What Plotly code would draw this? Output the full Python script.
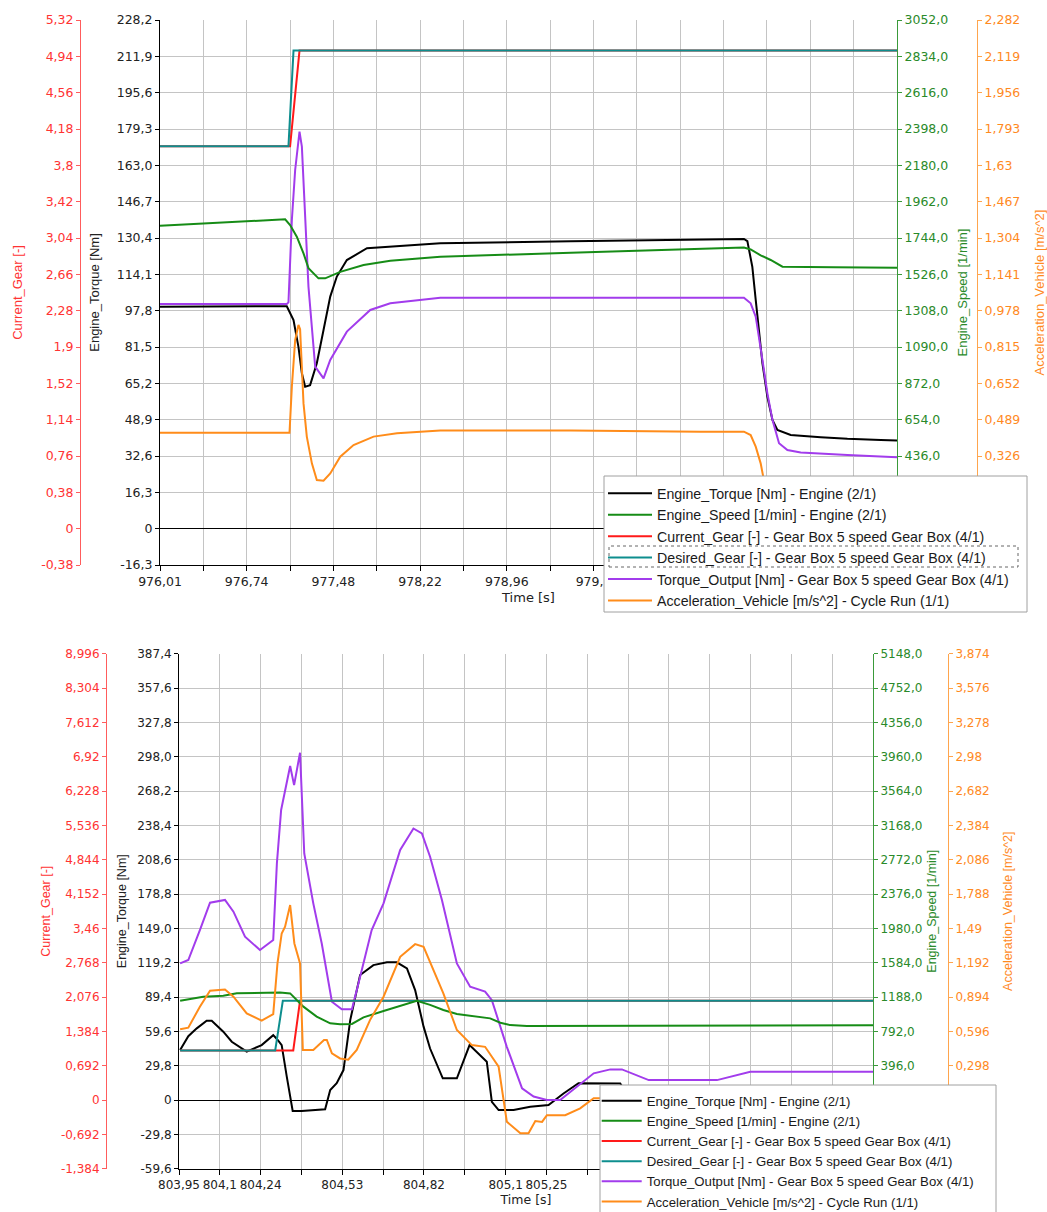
import plotly.graph_objects as go

W, H = 1047, 1212

# ---------------- top chart: gear shift 4 -> 5 ----------------
top_time_range = [976.01, 982.27]
top_time_labels = ["976,01", "", "976,74", "", "977,48", "", "978,22", "", "978,96", "",
                   "979,7", "", "", "", "", "", "", ""]

top_torque_t = [976.01, 976.69, 977.087, 977.144, 977.186, 977.215, 977.243, 977.285, 977.342,
                977.399, 977.456, 977.512, 977.597, 977.768, 977.966, 978.391, 979.5, 980.602,
                980.970, 980.999, 981.041, 981.070, 981.098, 981.127, 981.169, 981.212, 981.254,
                981.367, 981.622, 981.849, 982.132, 982.27]
top_torque = [99.6, 99.8, 99.8, 93.6, 81.6, 69.7, 63.7, 64.4, 74.2, 89.1, 104.1, 113.1, 120.5,
              125.8, 126.5, 128.0, 128.9, 129.5, 130.0, 129.0, 117.5, 102.6, 87.7, 74.2, 59.2,
              48.8, 44.3, 42.0, 41.0, 40.3, 39.8, 39.5]

top_speed_t = [976.01, 976.69, 977.073, 977.115, 977.172, 977.229, 977.271, 977.356, 977.413,
               977.541, 977.739, 977.966, 978.391, 979.5, 980.602, 980.970, 981.027, 981.112,
               981.197, 981.297, 981.735, 982.27]
top_speed = [1818, 1842, 1856, 1822, 1752, 1652, 1563, 1502, 1502, 1541, 1582, 1608, 1632, 1655,
             1679, 1687, 1675, 1640, 1612, 1572, 1568, 1565]

top_cur_gear_t = [976.01, 977.115, 977.195, 982.27]
top_cur_gear = [4, 4, 5, 5]
top_des_gear_t = [976.01, 977.101, 977.144, 982.27]
top_des_gear = [4, 4, 5, 5]

top_tout_t = [976.01, 977.087, 977.101, 977.130, 977.158, 977.195, 977.215, 977.243, 977.271,
              977.328, 977.399, 977.456, 977.597, 977.796, 977.966, 978.391, 979.5, 980.602,
              980.970, 981.027, 981.070, 981.127, 981.169, 981.212, 981.268, 981.339, 981.452,
              981.849, 982.27]
top_tout = [100.8, 100.8, 101.5, 138.5, 160.9, 178.1, 171.4, 138.5, 108.6, 72.7, 67.4, 75.7,
            88.4, 98.1, 101.1, 103.6, 103.7, 103.6, 103.6, 101.1, 95.1, 75.7, 60.7, 48.8, 38.3,
            35.3, 34.2, 33.0, 32.0]

top_acc_t = [976.01, 977.110, 977.130, 977.158, 977.186, 977.200, 977.229, 977.257, 977.300,
             977.342, 977.399, 977.456, 977.541, 977.654, 977.824, 978.023, 978.391, 979.5,
             980.602, 980.970, 981.027, 981.070, 981.112, 981.140, 981.20, 981.30, 981.5, 982.27]
top_acc = [0.430, 0.430, 0.637, 0.846, 0.914, 0.895, 0.562, 0.413, 0.293, 0.218, 0.215, 0.248,
           0.323, 0.375, 0.413, 0.428, 0.440, 0.440, 0.435, 0.435, 0.420, 0.368, 0.293, 0.22,
           0.05, -0.05, -0.06, -0.06]

top_torque_labels = ["-16,3", "0", "16,3", "32,6", "48,9", "65,2", "81,5", "97,8", "114,1",
                     "130,4", "146,7", "163,0", "179,3", "195,6", "211,9", "228,2"]
top_gear_labels = ["-0,38", "0", "0,38", "0,76", "1,14", "1,52", "1,9", "2,28", "2,66", "3,04",
                   "3,42", "3,8", "4,18", "4,56", "4,94", "5,32"]
top_speed_labels = ["-218,0", "0", "218,0", "436,0", "654,0", "872,0", "1090,0", "1308,0",
                    "1526,0", "1744,0", "1962,0", "2180,0", "2398,0", "2616,0", "2834,0", "3052,0"]
top_acc_labels = ["-0,163", "0", "0,163", "0,326", "0,489", "0,652", "0,815", "0,978", "1,141",
                  "1,304", "1,467", "1,63", "1,793", "1,956", "2,119", "2,282"]

# ---------------- bottom chart: gear shift 1 -> 2 ----------------
bot_time_range = [803.95, 806.41]
bot_time_labels = ["803,95", "804,1", "804,24", "", "804,53", "", "804,82", "", "805,1",
                   "805,25", "", "", "", "", "", "", "", ""]

bot_torque_t = [803.954, 803.983, 804.013, 804.048, 804.066, 804.107, 804.137, 804.190, 804.243,
                804.284, 804.297, 804.314, 804.332, 804.353, 804.385, 804.468, 804.486, 804.509,
                804.533, 804.557, 804.592, 804.639, 804.687, 804.722, 804.758, 804.787, 804.817,
                804.840, 804.885, 804.935, 804.980, 805.041, 805.059, 805.083, 805.136, 805.195,
                805.260, 805.313, 805.366, 805.408, 805.514, 805.53, 806.41]
bot_torque = [43.4, 55.4, 62.2, 68.8, 68.8, 59.3, 50.6, 42.0, 47.7, 56.3, 53.0, 47.7, 20.3, -9.5,
              -9.5, -8.1, 8.7, 14.6, 26.0, 69.4, 108.5, 117.1, 119.5, 119.5, 114.2, 95.4, 63.7,
              44.7, 18.8, 18.8, 47.7, 33.3, -1.5, -8.7, -8.7, -5.8, -4.3, 5.7, 14.6, 14.5, 14.3,
              8.0, 8.0]

bot_speed_t = [803.954, 804.036, 804.107, 804.155, 804.308, 804.344, 804.391, 804.438, 804.486,
               804.521, 804.563, 804.604, 804.675, 804.746, 804.793, 804.840, 804.887, 804.935,
               805.006, 805.053, 805.089, 805.124, 805.183, 805.349, 806.41]
bot_speed = [1145, 1192, 1204, 1231, 1239, 1230, 1077, 962, 885, 873, 878, 954, 1027, 1095, 1145,
             1097, 1038, 992, 962, 942, 891, 864, 853, 855, 862]

bot_cur_gear_t = [803.954, 804.355, 804.379, 806.41]
bot_cur_gear = [1, 1, 2, 2]
bot_des_gear_t = [803.954, 804.291, 804.318, 806.41]
bot_des_gear = [1, 1, 2, 2]

bot_tout_t = [803.954, 803.983, 804.024, 804.060, 804.113, 804.143, 804.184, 804.237, 804.284,
              804.297, 804.312, 804.326, 804.344, 804.358, 804.379, 804.394, 804.426, 804.456,
              804.492, 804.527, 804.563, 804.592, 804.633, 804.675, 804.734, 804.781, 804.811,
              804.840, 804.882, 804.935, 804.982, 805.035, 805.059, 805.112, 805.166, 805.207,
              805.254, 805.301, 805.361, 805.420, 805.479, 805.520, 805.615, 805.857, 805.975,
              806.41]
bot_tout = [118.6, 121.5, 147.5, 171.3, 173.7, 163.5, 141.8, 130.2, 138.9, 205.4, 251.8, 267.6,
            289.9, 273.3, 301.5, 214.0, 170.7, 135.9, 85.3, 78.7, 78.7, 107.0, 147.5, 170.7,
            217.0, 235.7, 231.5, 211.2, 173.7, 118.6, 98.3, 94.1, 86.7, 46.2, 10.1, 3.0, 0.0, 0.0,
            11.6, 23.2, 26.6, 26.6, 17.3, 17.3, 24.6, 24.6]

bot_acc_t = [803.954, 803.983, 804.024, 804.060, 804.113, 804.143, 804.190, 804.243, 804.284,
             804.299, 804.314, 804.326, 804.344, 804.359, 804.379, 804.389, 804.426, 804.464,
             804.474, 804.492, 804.521, 804.550, 804.580, 804.627, 804.675, 804.734, 804.787,
             804.817, 804.887, 804.935, 804.988, 805.035, 805.083, 805.112, 805.160, 805.189,
             805.213, 805.237, 805.254, 805.319, 805.372, 805.420, 805.45, 806.41]
bot_acc = [0.614, 0.628, 0.810, 0.948, 0.960, 0.897, 0.752, 0.689, 0.746, 1.186, 1.446, 1.504,
           1.692, 1.359, 1.186, 0.435, 0.435, 0.521, 0.521, 0.405, 0.361, 0.350, 0.435, 0.694,
           0.897, 1.243, 1.353, 1.330, 0.926, 0.608, 0.477, 0.462, 0.289, -0.188, -0.289, -0.289,
           -0.182, -0.190, -0.131, -0.131, -0.072, 0.015, 0.015, 0.015]

bot_torque_labels = ["-59,6", "-29,8", "0", "29,8", "59,6", "89,4", "119,2", "149,0", "178,8",
                     "208,6", "238,4", "268,2", "298,0", "327,8", "357,6", "387,4"]
bot_gear_labels = ["-1,384", "-0,692", "0", "0,692", "1,384", "2,076", "2,768", "3,46", "4,152",
                   "4,844", "5,536", "6,228", "6,92", "7,612", "8,304", "8,996"]
bot_speed_labels = ["-792,0", "-396,0", "0", "396,0", "792,0", "1188,0", "1584,0", "1980,0",
                    "2376,0", "2772,0", "3168,0", "3564,0", "3960,0", "4356,0", "4752,0", "5148,0"]
bot_acc_labels = ["-0,596", "-0,298", "0", "0,298", "0,596", "0,894", "1,192", "1,49", "1,788",
                  "2,086", "2,384", "2,682", "2,98", "3,278", "3,576", "3,874"]

NAMES = ["Engine_Torque [Nm] - Engine (2/1)",
         "Engine_Speed [1/min] - Engine (2/1)",
         "Current_Gear [-] - Gear Box 5 speed Gear Box (4/1)",
         "Desired_Gear [-] - Gear Box 5 speed Gear Box (4/1)",
         "Torque_Output [Nm] - Gear Box 5 speed Gear Box (4/1)",
         "Acceleration_Vehicle [m/s^2] - Cycle Run (1/1)"]
COLORS = ["#000000", "#168c16", "#ff1a1a", "#0e8e8e", "#a23cec", "#ff8c1a"]
GRID = "#c4c4c4"
LABEL_FONT = "DejaVu Sans"
TEXT_FONT = "Liberation Sans"


def px_x(x):
    return x / W


def px_y(y):
    return 1 - y / H


def tick_values(labels):
    """Tick positions read back from the comma-decimal labels."""
    return [float(s.replace(",", ".")) for s in labels]


def y_axis(labels, label_color, line_color, title, title_color, size, standoff, grid=False, **kw):
    vals = tick_values(labels)
    return dict(
        range=[vals[0], vals[-1]], tickmode="array", tickvals=vals, ticktext=labels,
        showline=True, linecolor=line_color, linewidth=1,
        ticks="outside", ticklen=4, tickcolor=line_color,
        tickfont=dict(family=LABEL_FONT, size=size, color=label_color),
        title=dict(text=title, font=dict(family=TEXT_FONT, size=size + 0.5, color=title_color),
                   standoff=standoff),
        showgrid=grid, gridcolor=GRID, gridwidth=1.2,
        zeroline=grid, zerolinecolor="#000000", zerolinewidth=1,
        automargin=False, fixedrange=True, **kw)


def x_axis(rng, labels, size, **kw):
    step = (rng[1] - rng[0]) / (len(labels) - 1)
    vals = [rng[0] + i * step for i in range(len(labels))]
    return dict(
        range=rng, tickmode="array", tickvals=vals, ticktext=labels, tickangle=0,
        showgrid=True, gridcolor=GRID, gridwidth=1.2,
        showline=True, linecolor="#000000", linewidth=1.2,
        ticks="outside", ticklen=5, tickcolor="#000000",
        tickfont=dict(family=LABEL_FONT, size=size, color="#222222"),
        title=dict(text="Time [s]", font=dict(family=LABEL_FONT, size=size + 0.5, color="#222222"),
                   standoff=4),
        zeroline=False, automargin=False, fixedrange=True, **kw)


def add_chart(fig, data, xa, ys, legend):
    """data: list of (t, values, axis index) in legend order."""
    for (t, v, k), name, color in zip(data, NAMES, COLORS):
        fig.add_trace(go.Scatter(x=t, y=v, mode="lines", name=name,
                                 line=dict(color=color, width=2),
                                 xaxis=xa, yaxis=ys[k], legend=legend, hoverinfo="skip"))


fig = go.Figure()

add_chart(fig, [(top_torque_t, top_torque, 0), (top_speed_t, top_speed, 2),
                (top_cur_gear_t, top_cur_gear, 1), (top_des_gear_t, top_des_gear, 1),
                (top_tout_t, top_tout, 0), (top_acc_t, top_acc, 3)],
          "x", ["y", "y2", "y3", "y4"], "legend")
add_chart(fig, [(bot_torque_t, bot_torque, 0), (bot_speed_t, bot_speed, 2),
                (bot_cur_gear_t, bot_cur_gear, 1), (bot_des_gear_t, bot_des_gear, 1),
                (bot_tout_t, bot_tout, 0), (bot_acc_t, bot_acc, 3)],
          "x2", ["y5", "y6", "y7", "y8"], "legend2")

RED_L, RED_T = "#ff5c5c", "#ff3333"
GRN_L, GRN_T = "#3a9a3a", "#2a8a2a"
ORG_L, ORG_T = "#ffa54d", "#ff8a1f"

fig.update_layout(
    width=W, height=H, margin=dict(l=0, r=0, t=0, b=0, autoexpand=False),
    paper_bgcolor="white", plot_bgcolor="white", showlegend=True,
    xaxis=x_axis(top_time_range, top_time_labels, 12.5,
                 domain=[px_x(160), px_x(897)], anchor="y"),
    yaxis=y_axis(top_torque_labels, "#222222", "#000000", "Engine_Torque [Nm]", "#222222", 12.5, 14,
                 grid=True, domain=[px_y(565), px_y(20)], anchor="x"),
    yaxis2=y_axis(top_gear_labels, RED_T, RED_L, "Current_Gear [-]", RED_T, 12.5, 14,
                  overlaying="y", anchor="free", position=px_x(80), side="left"),
    yaxis3=y_axis(top_speed_labels, GRN_T, GRN_L, "Engine_Speed [1/min]", GRN_T, 12.5, 10,
                  overlaying="y", anchor="x", side="right"),
    yaxis4=y_axis(top_acc_labels, ORG_T, ORG_L, "Acceleration_Vehicle [m/s^2]", ORG_T, 12.5, 16,
                  overlaying="y", anchor="free", position=px_x(977), side="right"),
    xaxis2=x_axis(bot_time_range, bot_time_labels, 12,
                  domain=[px_x(179), px_x(873)], anchor="y5"),
    yaxis5=y_axis(bot_torque_labels, "#222222", "#000000", "Engine_Torque [Nm]", "#222222", 12, 7,
                  grid=True, domain=[px_y(1168.7), px_y(653.7)], anchor="x2"),
    yaxis6=y_axis(bot_gear_labels, RED_T, RED_L, "Current_Gear [-]", RED_T, 12, 6,
                  overlaying="y5", anchor="free", position=px_x(106), side="left"),
    yaxis7=y_axis(bot_speed_labels, GRN_T, GRN_L, "Engine_Speed [1/min]", GRN_T, 12, 5,
                  overlaying="y5", anchor="x2", side="right"),
    yaxis8=y_axis(bot_acc_labels, ORG_T, ORG_L, "Acceleration_Vehicle [m/s^2]", ORG_T, 12, 10,
                  overlaying="y5", anchor="free", position=px_x(948), side="right"),
    legend=dict(x=px_x(603), y=px_y(477.5), xanchor="left", yanchor="top",
                bgcolor="rgba(0,0,0,0)", borderwidth=0, itemwidth=44, itemclick=False,
                font=dict(family=TEXT_FONT, size=14.2, color="#1a1a1a")),
    legend2=dict(x=px_x(596.7), y=px_y(1085.6), xanchor="left", yanchor="top",
                 bgcolor="rgba(0,0,0,0)", borderwidth=0, itemwidth=40, itemclick=False,
                 font=dict(family=TEXT_FONT, size=13.2, color="#1a1a1a")),
)

# legend frames (white boxes over the plot) and the dotted focus frame
fig.add_shape(type="rect", xref="paper", yref="paper", layer="above",
              x0=px_x(604), x1=px_x(1027), y0=px_y(612), y1=px_y(476),
              fillcolor="white", line=dict(color="#a0a0a0", width=1))
fig.add_shape(type="rect", xref="paper", yref="paper", layer="above",
              x0=px_x(609), x1=px_x(1018), y0=px_y(567), y1=px_y(546),
              fillcolor="rgba(0,0,0,0)", line=dict(color="#666666", width=1, dash="dot"))
fig.add_shape(type="rect", xref="paper", yref="paper", layer="above",
              x0=px_x(600), x1=px_x(996), y0=px_y(1216), y1=px_y(1085),
              fillcolor="white", line=dict(color="#a0a0a0", width=1))

# page body margin would shift the figure by 8 px
fig.write_html("out.html", config={"displayModeBar": False},
               post_script="document.body.style.margin = '0';")
